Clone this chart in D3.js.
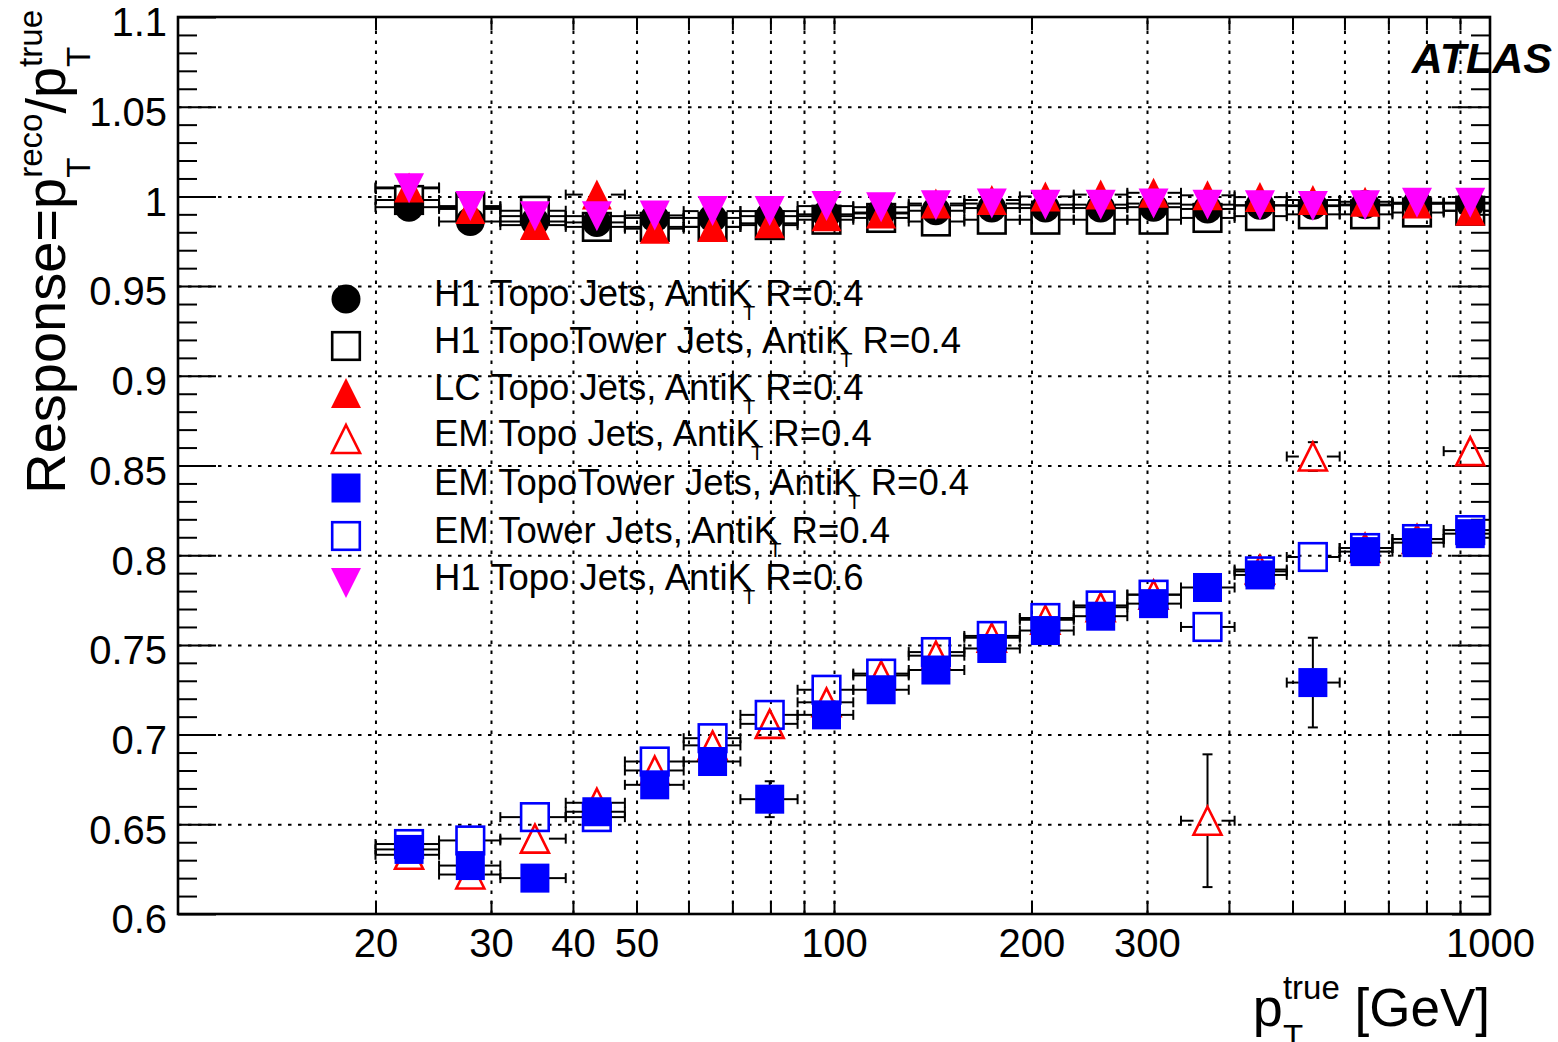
<!DOCTYPE html>
<html>
<head>
<meta charset="utf-8">
<script src="https://cdn.jsdelivr.net/npm/d3@7"></script>
<style>
  body { margin: 0; background: #fff; }
  svg { display: block; font-family: "Liberation Sans", Arial, Helvetica, sans-serif; }
</style>
</head>
<body>
<svg id="chart" width="1558" height="1042"></svg>
<script>
// jet response vs true pT, one array per jet collection

// bin centres and bin edges in GeV
const ptCenters = [22.5, 27.9, 35.0, 43.5, 53.3, 65.3, 79.8, 97.4, 118, 143, 174, 210, 255, 307, 371, 446, 537, 645, 774, 933];
const binLow  = [20, 25, 31, 39, 48, 59, 72, 88, 107, 130, 158, 192, 232, 280, 338, 408, 490, 590, 710, 850];
const binHigh = [25, 31, 39, 48, 59, 72, 88, 107, 130, 158, 192, 232, 280, 338, 408, 490, 590, 710, 850, 1000];

const h1Topo04      = [0.994, 0.986, 0.986, 0.9855, 0.988, 0.988, 0.989, 0.990, 0.991, 0.992, 0.9935, 0.9935, 0.9935, 0.994, 0.993, 0.995, 0.995, 0.9955, 0.996, 0.996];
const h1TopoTower04 = [0.998, 0.994, 0.992, 0.983, 0.983, 0.983, 0.984, 0.987, 0.988, 0.986, 0.987, 0.987, 0.987, 0.987, 0.988, 0.989, 0.990, 0.990, 0.991, 0.992];
const lcTopo04      = [1.005, 0.993, 0.984, 1.001, 0.982, 0.983, 0.985, 0.989, 0.9905, 0.996, 0.998, 1.000, 1.001, 1.002, 1.0006, 0.9996, 0.998, 0.997, 0.996, 0.992];
const emTopo04      = [0.633, 0.622, 0.642, 0.662, 0.680, 0.694, 0.706, 0.718, 0.733, 0.744, 0.754, 0.764, 0.771, 0.778, 0.652, 0.792, 0.855, 0.804, 0.809, 0.858];
const emTopoTower04 = [0.636, 0.627, 0.620, 0.657, 0.672, 0.685, 0.664, 0.711, 0.725, 0.736, 0.748, 0.758, 0.766, 0.773, 0.782, 0.789, 0.729, 0.802, 0.807, 0.812];
const emTower04     = [0.639, 0.641, 0.654, 0.654, 0.685, 0.698, 0.711, 0.725, 0.734, 0.746, 0.755, 0.765, 0.772, 0.778, 0.760, 0.791, 0.799, 0.804, 0.809, 0.814];
const h1Topo06      = [1.0045, 0.9946, 0.989, 0.989, 0.9894, 0.9918, 0.9918, 0.9946, 0.994, 0.995, 0.996, 0.9954, 0.9954, 0.996, 0.9954, 0.995, 0.9946, 0.995, 0.9965, 0.9965];

// statistical errors on the response
const errSmall        = [0.003, 0.003, 0.003, 0.003, 0.003, 0.002, 0.002, 0.002, 0.002, 0.002, 0.002, 0.002, 0.002, 0.002, 0.002, 0.002, 0.002, 0.002, 0.002, 0.002];
const emTopo04Err      = [0.004, 0.004, 0.004, 0.003, 0.003, 0.003, 0.003, 0.003, 0.003, 0.003, 0.003, 0.003, 0.003, 0.003, 0.037, 0.003, 0.008, 0.003, 0.003, 0.005];
const emTopoTower04Err = [0.003, 0.003, 0.003, 0.003, 0.003, 0.003, 0.010, 0.003, 0.003, 0.003, 0.003, 0.003, 0.003, 0.003, 0.003, 0.003, 0.025, 0.003, 0.003, 0.003];
const emTower04Err     = [0.003, 0.003, 0.003, 0.003, 0.003, 0.003, 0.003, 0.003, 0.003, 0.003, 0.003, 0.003, 0.003, 0.003, 0.003, 0.003, 0.003, 0.003, 0.003, 0.003];

const legendNames = ["H1 Topo Jets, AntiK", "H1 TopoTower Jets, AntiK", "LC Topo Jets, AntiK", "EM Topo Jets, AntiK",
                     "EM TopoTower Jets, AntiK", "EM Tower Jets, AntiK", "H1 Topo Jets, AntiK"];
const legendR = [" R=0.4", " R=0.4", " R=0.4", " R=0.4", " R=0.4", " R=0.4", " R=0.6"];

const xTickAll = [20, 30, 40, 50, 60, 70, 80, 90, 100, 200, 300, 400, 500, 600, 700, 800, 900];
const xTickLabels = [20, 30, 40, 50, 100, 200, 300, 1000];
const yTickMajor = [0.6, 0.65, 0.7, 0.75, 0.8, 0.85, 0.9, 0.95, 1.0, 1.05, 1.1];
const yTickMinor = [0.61, 0.62, 0.63, 0.64, 0.66, 0.67, 0.68, 0.69, 0.71, 0.72, 0.73, 0.74, 0.76, 0.77, 0.78, 0.79,
                    0.81, 0.82, 0.83, 0.84, 0.86, 0.87, 0.88, 0.89, 0.91, 0.92, 0.93, 0.94, 0.96, 0.97, 0.98, 0.99,
                    1.01, 1.02, 1.03, 1.04, 1.06, 1.07, 1.08, 1.09];

const svg = d3.select('#chart');
const padL = 178, padR = 1490, padT = 17, padB = 914;

const x = d3.scaleLog().domain([10, 1000]).range([padL, padR]);
const y = d3.scaleLinear().domain([0.6, 1.1]).range([padB, padT]);

// grid
svg.append('g')
  .attr('transform', `translate(0,${padB})`)
  .call(d3.axisBottom(x).tickValues(xTickAll).tickSize(-(padB - padT)).tickFormat(''))
  .call(g => g.select('.domain').remove())
  .selectAll('line').attr('stroke', '#000').attr('stroke-width', 2).attr('stroke-dasharray', '3.5,6.5');
svg.append('g')
  .attr('transform', `translate(${padL},0)`)
  .call(d3.axisLeft(y).tickValues(yTickMajor.slice(1, -1)).tickSize(-(padR - padL)).tickFormat(''))
  .call(g => g.select('.domain').remove())
  .selectAll('line').attr('stroke', '#000').attr('stroke-width', 2).attr('stroke-dasharray', '3.5,6.5');

// ticks on all four sides, pointing inwards
function ticks(axis, transform) {
  svg.append('g').attr('transform', transform).call(axis)
    .call(g => g.select('.domain').remove())
    .call(g => g.selectAll('line').attr('stroke', '#000').attr('stroke-width', 2));
}
ticks(d3.axisBottom(x).tickValues(xTickAll).tickSize(-13).tickFormat(''), `translate(0,${padB})`);
ticks(d3.axisTop(x).tickValues(xTickAll).tickSize(-13).tickFormat(''), `translate(0,${padT})`);
ticks(d3.axisLeft(y).tickValues(yTickMajor).tickSize(-38).tickFormat(''), `translate(${padL},0)`);
ticks(d3.axisLeft(y).tickValues(yTickMinor).tickSize(-19).tickFormat(''), `translate(${padL},0)`);
ticks(d3.axisRight(y).tickValues(yTickMajor).tickSize(-38).tickFormat(''), `translate(${padR},0)`);
ticks(d3.axisRight(y).tickValues(yTickMinor).tickSize(-19).tickFormat(''), `translate(${padR},0)`);

// tick labels
svg.append('g')
  .attr('transform', `translate(0,${padB})`)
  .call(d3.axisBottom(x).tickValues(xTickLabels).tickSize(0).tickPadding(15).tickFormat(d3.format('d')))
  .call(g => g.select('.domain').remove())
  .selectAll('text').attr('font-size', 40).attr('fill', '#000').attr('font-family', null);
svg.append('g')
  .attr('transform', `translate(${padL},0)`)
  .call(d3.axisLeft(y).tickValues(yTickMajor).tickSize(0).tickPadding(11).tickFormat(d => String(+d.toFixed(2))))
  .call(g => g.select('.domain').remove())
  .selectAll('text').attr('font-size', 40).attr('fill', '#000').attr('font-family', null).attr('dy', '0.47em');

// frame
svg.append('rect')
  .attr('x', padL).attr('y', padT).attr('width', padR - padL).attr('height', padB - padT)
  .attr('fill', 'none').attr('stroke', '#000').attr('stroke-width', 2.6);

// markers
function marker(g, shape, cx, cy, color) {
  const h = 15;
  if (shape === 'circle') {
    g.append('circle').attr('cx', cx).attr('cy', cy).attr('r', 14.5).attr('fill', color);
  } else if (shape === 'square' || shape === 'opensquare') {
    const open = shape === 'opensquare';
    const s = open ? 13.8 : 14.5;
    g.append('rect').attr('x', cx - s).attr('y', cy - s).attr('width', 2 * s).attr('height', 2 * s)
      .attr('fill', open ? 'none' : color).attr('stroke', open ? color : 'none').attr('stroke-width', 2.6);
  } else {
    const open = shape === 'opentriangle';
    const dir = shape === 'invtriangle' ? -1 : 1;
    const s = open ? h - 1 : h;
    const pts = [[cx, cy - dir * s], [cx + s, cy + dir * s], [cx - s, cy + dir * s]];
    g.append('path').attr('d', 'M' + pts.join('L') + 'Z')
      .attr('fill', open ? 'none' : color).attr('stroke', open ? color : 'none').attr('stroke-width', 2.6);
  }
}

function errorBars(g, vals, errs) {
  const gap = 14, cap = 5;
  vals.forEach((v, i) => {
    const cx = x(ptCenters[i]), cy = y(v);
    const xl = x(binLow[i]), xr = x(binHigh[i]);
    const yt = y(v + errs[i]), yb = y(v - errs[i]);
    const line = (x1, y1, x2, y2) => g.append('line').attr('x1', x1).attr('y1', y1).attr('x2', x2).attr('y2', y2)
      .attr('stroke', '#000').attr('stroke-width', 2);
    if (cx - gap > xl) { line(xl, cy, cx - gap, cy); line(xl, cy - cap, xl, cy + cap); }
    if (xr > cx + gap) { line(cx + gap, cy, xr, cy); line(xr, cy - cap, xr, cy + cap); }
    if (cy - gap > yt) { line(cx, yt, cx, cy - gap); line(cx - cap, yt, cx + cap, yt); }
    if (yb > cy + gap) { line(cx, cy + gap, cx, yb); line(cx - cap, yb, cx + cap, yb); }
  });
}

const series = [
  { vals: h1TopoTower04, errs: errSmall, shape: 'opensquare', color: '#000' },
  { vals: h1Topo04, errs: errSmall, shape: 'circle', color: '#000' },
  { vals: lcTopo04, errs: errSmall, shape: 'triangle', color: '#ff0000' },
  { vals: emTopo04, errs: emTopo04Err, shape: 'opentriangle', color: '#ff0000' },
  { vals: emTower04, errs: emTower04Err, shape: 'opensquare', color: '#0000ff' },
  { vals: emTopoTower04, errs: emTopoTower04Err, shape: 'square', color: '#0000ff' },
  { vals: h1Topo06, errs: errSmall, shape: 'invtriangle', color: '#ff00ff' }
];

const plot = svg.append('g');
series.forEach(s => {
  const g = plot.append('g');
  errorBars(g, s.vals, s.errs);
  s.vals.forEach((v, i) => marker(g, s.shape, x(ptCenters[i]), y(v), s.color));
});

// legend
const legendRows = [299, 346, 393, 439, 488, 536, 583];
const legendOrder = [1, 0, 2, 3, 5, 4, 6].map(i => series[i]);
const leg = svg.append('g');
legendOrder.forEach((s, k) => {
  const row = legendRows[k];
  marker(leg, s.shape, 346, row, s.color);
  const t = leg.append('text').attr('x', 434).attr('y', row + 7).attr('font-size', 36.5).attr('fill', '#000');
  t.append('tspan').text(legendNames[k]);
  t.append('tspan').attr('font-size', 20).attr('dx', -9).attr('dy', 14).text('T');
  t.append('tspan').attr('dy', -14).text(legendR[k]);
});

// composite label with sub/superscript stacked after a symbol
function richLabel(g, parts) {
  let pos = 0;
  parts.forEach(p => {
    if (p.text) {
      const t = g.append('text').attr('x', pos).attr('y', 0).attr('font-size', p.size).attr('fill', '#000')
        .style('white-space', 'pre').text(p.text);
      pos += t.node().getComputedTextLength();
    } else {
      const a = g.append('text').attr('x', pos).attr('y', -p.up).attr('font-size', p.size).attr('fill', '#000').text(p.sup);
      const b = g.append('text').attr('x', pos).attr('y', p.down).attr('font-size', p.size).attr('fill', '#000').text(p.sub);
      pos += Math.max(a.node().getComputedTextLength(), b.node().getComputedTextLength());
    }
  });
  g.selectAll('text').attr('x', function () { return +d3.select(this).attr('x') - pos; });
}

// x title, right aligned to the axis end
richLabel(svg.append('g').attr('transform', `translate(${padR},1026)`), [
  { text: 'p', size: 54 },
  { sup: 'true', sub: 'T', size: 33, up: 27, down: 22 },
  { text: '\u00a0[GeV]', size: 53 }
]);

// y title, rotated, right aligned to the top
richLabel(svg.append('g').attr('transform', 'translate(65,10) rotate(-90)'), [
  { text: 'Response=p', size: 56 },
  { sup: 'reco', sub: 'T', size: 33, up: 23, down: 25 },
  { text: '/p', size: 56 },
  { sup: 'true', sub: 'T', size: 33, up: 23, down: 25 }
]);

svg.append('text')
  .attr('x', 1552).attr('y', 73).attr('text-anchor', 'end')
  .attr('font-size', 43).attr('font-weight', 'bold').attr('font-style', 'italic').attr('fill', '#000')
  .text('ATLAS');
</script>
</body>
</html>
